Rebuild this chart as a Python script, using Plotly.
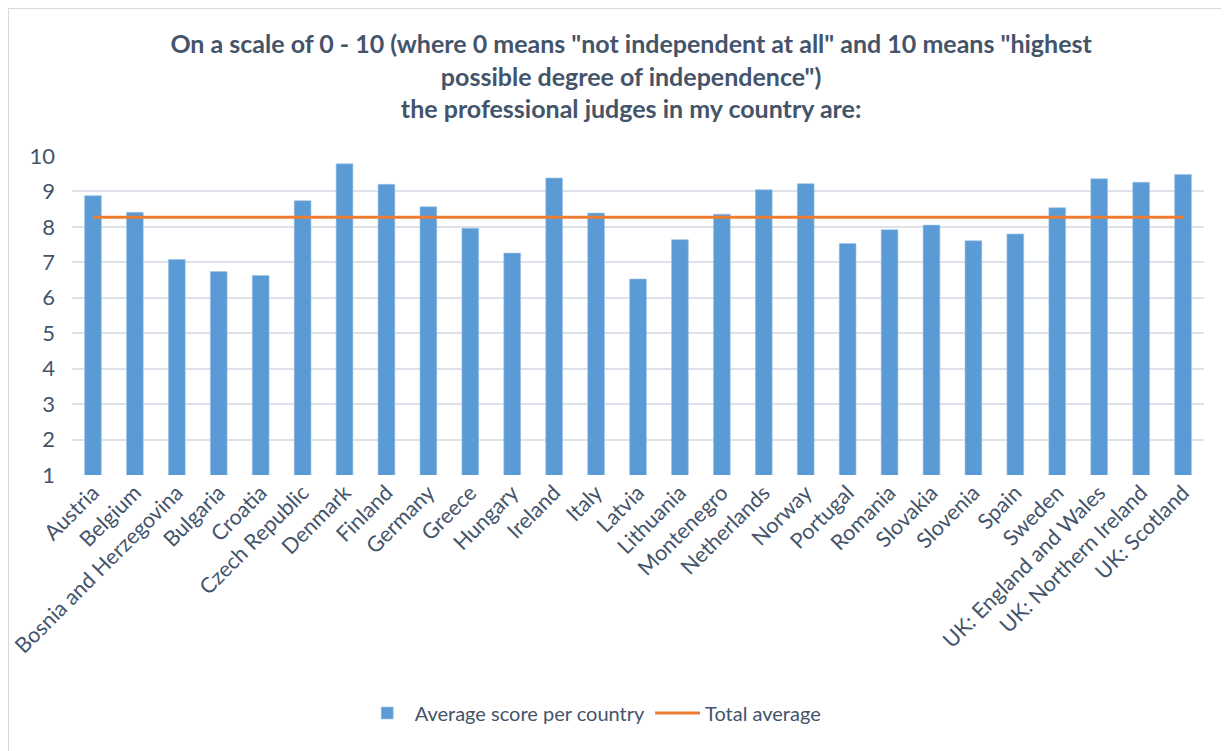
import plotly.graph_objects as go

# =========================================================
# Data
# =========================================================
countries = [
    "Austria", "Belgium", "Bosnia and Herzegovina", "Bulgaria", "Croatia",
    "Czech Republic", "Denmark", "Finland", "Germany", "Greece", "Hungary",
    "Ireland", "Italy", "Latvia", "Lithuania", "Montenegro", "Netherlands",
    "Norway", "Portugal", "Romania", "Slovakia", "Slovenia", "Spain", "Sweden",
    "UK: England and Wales", "UK: Northern Ireland", "UK: Scotland",
]
avg_scores = [
    8.88, 8.41, 7.08, 6.74, 6.63, 8.74, 9.78, 9.20, 8.57, 7.96, 7.26,
    9.38, 8.39, 6.53, 7.64, 8.36, 9.05, 9.22, 7.53, 7.92, 8.05, 7.61,
    7.80, 8.54, 9.36, 9.26, 9.48,
]
total_average = 8.27
y_ticks = [1, 2, 3, 4, 5, 6, 7, 8, 9, 10]

title_text = (
    'On a scale of 0 - 10 (where 0 means "not independent at all" and 10 means "highest'
    '<br>possible degree of independence")'
    '<br>the professional judges in my country are:'
)

TEXT_COLOR = "#44546A"
FONT = "Lato"

# =========================================================
# Figure
# =========================================================
fig = go.Figure()

fig.add_trace(go.Bar(
    x=countries,
    y=avg_scores,
    name="Average score per country",
    marker=dict(color="#5B9BD5", line=dict(color="#9DC3E6", width=0.6)),
))

fig.add_trace(go.Scatter(
    x=countries,
    y=[total_average] * len(countries),
    mode="lines",
    name="Total average",
    line=dict(color="#ED7D31", width=3),
))

fig.update_layout(
    width=1229,
    height=751,
    paper_bgcolor="white",
    plot_bgcolor="white",
    font=dict(family=FONT, color=TEXT_COLOR, size=20),
    title=dict(
        text=title_text,
        x=0.507,
        xanchor="center",
        y=0.94,
        yanchor="top",
        font=dict(family=FONT, size=25, color=TEXT_COLOR, weight="bold"),
    ),
    margin=dict(l=64, r=33, t=148, b=284),
    bargap=0.6,
    showlegend=True,
    legend=dict(
        orientation="h",
        x=0.46,
        xanchor="center",
        y=-0.746,
        yanchor="middle",
        font=dict(size=20, color=TEXT_COLOR),
        itemwidth=45,
    ),
)

fig.update_xaxes(
    tickangle=-45,
    tickfont=dict(size=21.5, color=TEXT_COLOR),
    showgrid=False,
    showline=False,
    ticks="",
    automargin=False,
)

fig.update_yaxes(
    range=[1, 10],
    tickvals=y_ticks,
    tickfont=dict(size=22, color=TEXT_COLOR),
    showgrid=True,
    gridcolor="#DDE1EA",
    gridwidth=1.5,
    zeroline=False,
    ticklabelstandoff=16,
    automargin=False,
)

# light chart-area border (left and top edges visible in the reference)
fig.add_shape(type="line", xref="paper", yref="paper",
              x0=-0.0565, x1=-0.0565, y0=1.464, y1=-1.0,
              line=dict(color="#D9D9D9", width=2))
fig.add_shape(type="line", xref="paper", yref="paper",
              x0=-0.0565, x1=1.05, y0=1.464, y1=1.464,
              line=dict(color="#D9D9D9", width=2))

fig.write_html("out.html")
